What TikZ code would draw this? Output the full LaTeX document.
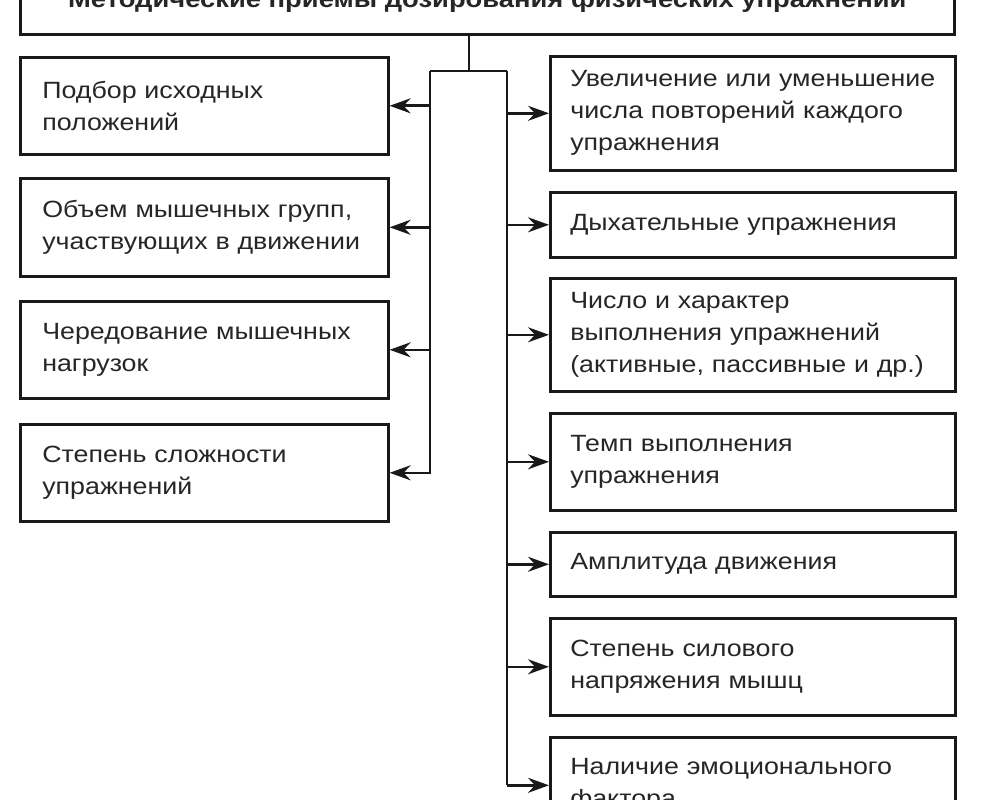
\documentclass[tikz,border=0pt]{standalone}
\usepackage{fontspec}
\setmainfont{Liberation Sans}[FakeStretch=1.14]
\usepackage{tikz}
\usetikzlibrary{arrows.meta, positioning}

\begin{document}
\begin{tikzpicture}[x=1pt, y=-1pt,
  box/.style={draw=black!90, line width=2.6pt, anchor=north west, align=left,
    inner xsep=#1, inner ysep=0pt, text=black!85,
    font=\fontsize{23.5}{32}\selectfont},
  lbox/.style={box=22pt, minimum width=368pt, text width=324pt},
  rbox/.style={box=20pt, minimum width=405pt, text width=365pt},
  link/.style={draw=black!90, line width=2.6pt},
  arr/.style={link, -{Stealth[length=21pt, width=15pt, inset=7pt]}}
]
  \useasboundingbox (0,0) rectangle (986,800);
  \clip (0,0) rectangle (986,800);
  \fill[white] (0,0) rectangle (986,800);

  \node[box=0pt, minimum width=934pt, minimum height=67pt, align=center,
    font=\fontsize{24}{28}\selectfont\bfseries] (title) at (19,-34)
    {Методические приемы дозирования физических упражнений};

  \node[lbox, minimum height=97pt] (podbor) at (19,56) {Подбор исходных\\положений};
  \node[lbox, minimum height=98pt] (obem)   at (19,177) {Объем мышечных групп,\\участвующих в движении};
  \node[lbox, minimum height=97pt] (chered) at (19,300) {Чередование мышечных\\нагрузок};
  \node[lbox, minimum height=97pt] (slozh)  at (19,423) {Степень сложности\\упражнений};

  \node[rbox, minimum height=114pt] (povtor) at (549,55)
    {\mbox{Увеличение или уменьшение}\\числа повторений каждого\\упражнения};
  \node[rbox, minimum height=65pt]  (dyh)    at (549,191) {Дыхательные упражнения};
  \node[rbox, minimum height=113pt] (chislo) at (549,277)
    {Число и характер\\выполнения упражнений\\(активные, пассивные и др.)};
  \node[rbox, minimum height=97pt]  (temp)   at (549,412) {Темп выполнения\\упражнения};
  \node[rbox, minimum height=64pt]  (ampl)   at (549,531) {Амплитуда движения};
  \node[rbox, minimum height=97pt]  (sila)   at (549,617) {Степень силового\\напряжения мышц};
  \node[rbox, minimum height=96pt]  (emoc)   at (549,736) {Наличие эмоционального\\фактора};

  \coordinate (fork) at (469,71);
  \coordinate (ltop) at (430,71);
  \coordinate (rtop) at (507,71);

  \draw[link] (title.south -| fork) -- (fork);
  \draw[link] (ltop) -- (rtop);
  \draw[arr] (ltop) |- (slozh);
  \foreach \n in {podbor, obem, chered}
    \draw[arr] (ltop |- \n) -- (\n);
  \draw[link] (rtop) -- (rtop |- emoc);
  \foreach \n in {povtor, dyh, chislo, temp, ampl, sila, emoc}
    \draw[arr] (rtop |- \n) -- (\n);
\end{tikzpicture}
\end{document}
